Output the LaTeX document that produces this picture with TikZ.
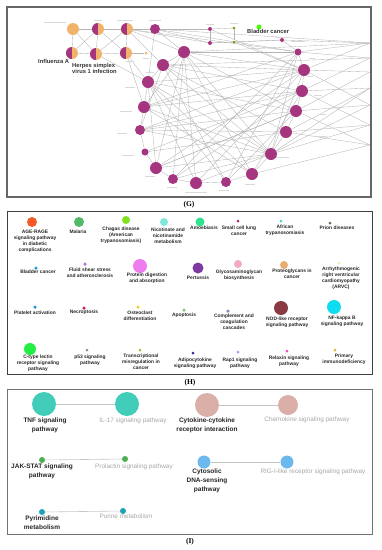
\documentclass[tikz,border=0pt]{standalone}
\usepackage{fontspec}
\setmainfont{Liberation Sans}
\newfontfamily\capfont{Liberation Serif}
\usetikzlibrary{backgrounds}
\definecolor{pur}{HTML}{A6357F}
\definecolor{org}{HTML}{F0B36C}
\definecolor{edg}{HTML}{B4B4B4}
\begin{document}
\begin{tikzpicture}[x=1pt,y=-1pt,
  dot/.style={circle,inner sep=0pt,draw=none},
  pn/.style={dot,fill=pur},
  halfnode/.style={dot,fill=org,path picture={\fill[pur] (path picture bounding box.north west) rectangle (path picture bounding box.south);}},
  edge/.style={draw=edg,line width=0.35pt},
  faint/.style={draw=gray!30,line width=0.7pt},
  hl/.style={font=\bfseries\fontsize{4.9}{6.0}\selectfont,align=center,anchor=north,inner sep=0pt,text=black!85},
  il/.style={font=\bfseries\fontsize{6.5}{9}\selectfont,align=center,anchor=north,inner sep=0pt,text=black!85},
  ig/.style={font=\fontsize{6.4}{9}\selectfont,align=center,anchor=north,inner sep=0pt,text=gray!70},
  ie/.style={draw=gray!45,line width=0.6pt},
  captxt/.style={font=\capfont\bfseries\fontsize{7.5}{8}\selectfont,inner sep=0pt},
  gl/.style={font=\bfseries\fontsize{5.8}{6.5}\selectfont,inner sep=0pt,text=black!80}
]
\useasboundingbox (0,0) rectangle (381,550);

% ================= Panel G =================
\draw[line width=1.5pt,draw=black!60] (7,7) rectangle (371,197);
% top cluster
\node[dot,fill=org,minimum size=12] (t1) at (73,29) {};
\node[halfnode,minimum size=12] (t2) at (98,29) {};
\node[halfnode,minimum size=12] (t3) at (127,29) {};
\node[pn,minimum size=10] (t4) at (155,29) {};
\node[halfnode,minimum size=12] (b1) at (72,53) {};
\node[halfnode,minimum size=12] (b2) at (96,54) {};
\node[halfnode,minimum size=12] (b3) at (126,53) {};
\node[dot,fill=org,minimum size=3] (b4) at (146,53) {};
\node[pn,minimum size=4] (s1) at (210,29) {};
\node[pn,minimum size=4] (s2) at (210,43) {};
\node[dot,fill=olive!80!green,minimum size=3] (g1) at (234,28) {};
\node[dot,fill=olive!80!green,minimum size=3] (g2) at (234,42) {};
\node[dot,fill=green!70!yellow,minimum size=5] (g3) at (259,27) {};
\node[pn,minimum size=4] (s3) at (282,40) {};
% ring
\node[pn,minimum size=12] (c1) at (184,52) {};
\node[pn,minimum size=12] (c2) at (163,65) {};
\node[pn,minimum size=12] (c3) at (148,82) {};
\node[pn,minimum size=12] (c4) at (144,107) {};
\node[pn,minimum size=10] (c5) at (140,130) {};
\node[pn,minimum size=7] (c6) at (145,152) {};
\node[pn,minimum size=12] (c7) at (156,168) {};
\node[pn,minimum size=10] (c8) at (173,179) {};
\node[pn,minimum size=12] (c9) at (196,183) {};
\node[pn,minimum size=10] (c10) at (226,182) {};
\node[pn,minimum size=12] (c11) at (252,174) {};
\node[pn,minimum size=12] (c12) at (271,154) {};
\node[pn,minimum size=12] (c13) at (286,132) {};
\node[pn,minimum size=12] (c14) at (296,111) {};
\node[pn,minimum size=12] (c15) at (302,91) {};
\node[pn,minimum size=12] (c16) at (304,70) {};
\node[pn,minimum size=7] (c17) at (298,52) {};
% right-edge endpoints
\coordinate (r1) at (370,43);
\coordinate (r2) at (370,58);
\coordinate (r3) at (370,72);
\coordinate (r4) at (370,88);
\coordinate (r5) at (370,105);
\coordinate (r6) at (370,125);
\coordinate (r7) at (370,145);
\begin{scope}[on background layer]
\foreach \a/\b in {t1/t2,t2/t3,t3/t4,b1/b2,b2/b3,b3/b4,t1/b1,t2/b2,t3/b3,t1/b2,t2/b1,t2/b3,t3/b2,
  b2/c3,b3/c3,t3/c2,t4/c1,t4/c3,t3/c1,t4/s1,t4/s2,t4/c17,t4/r1,t3/s2,t3/c17,b3/c4,
  s1/s2,g1/g2,s1/g1,s2/g2,g2/s3,s2/s3,s3/c17,s1/c16,g2/c16,
  c1/c2,c2/c3,c3/c4,c4/c5,c5/c6,c6/c7,c7/c8,c8/c9,c9/c10,c10/c11,c11/c12,c12/c13,c13/c14,c14/c15,c15/c16,c16/c17,c17/c1,
  c1/c12,c1/c14,c1/c16,c1/c11,c2/c12,c2/c15,c2/c16,c2/c13,c3/c12,c3/c14,c3/c16,c3/c10,c4/c12,c4/c15,c4/c17,c4/c11,
  c5/c12,c5/c14,c5/c16,c6/c15,c6/c13,c7/c12,c7/c16,c7/c14,c8/c15,c8/c1,c9/c3,c9/c16,c9/c1,c10/c2,c10/c17,c11/c3,
  c11/c15,c12/c17,c13/c5,c14/c7,c15/c5,c16/c4,c17/c8,c1/c4,c1/c7,c2/c5,c3/c7,c8/c12,c9/c12,c10/c14,c12/c16,
  c17/r1,c17/r2,c16/r1,c16/r3,c15/r2,c15/r4,c14/r3,c14/r5,c13/r4,c13/r6,c12/r5,c12/r6,c11/r7,c1/r1,c2/r2,s3/r1,
  c16/r5,c15/r6,c14/r7,c13/r7,c12/r4}
  \draw[edge] (\a) -- (\b);
% faint illegible node captions
\foreach \x/\y/\w in {55/22/22,98/20/8,125/20/16,155/20/12,130/61/8,146/58/6,210/24/8,234/23/8,282/37/14,298/41/14,
  312/58/6,310/76/6,318/95/8,322/114/8,320/136/14,282/157/14,250/184/10,224/190/10,196/192/22,172/187/10,
  150/176/10,128/155/12,122/133/10,126/111/12,130/87/10,150/72/8}
  \draw[faint] (\x-\w/2,\y) -- (\x+\w/2,\y);
\end{scope}
\node[gl,anchor=west] (lfa) at (38,61) {Influenza A};
\node[gl,anchor=north west,align=left] (lhs) at (72,63) {Herpes simplex\\virus 1 infection};
\node[gl,anchor=west] (lbc) at (247,31) {Bladder cancer};
\node[captxt] (capg) at (189,205) {(G)};

% ================= Panel H =================
\draw[line width=0.8pt,draw=black!75] (7,211) rectangle (372,374);
\foreach \n/\x/\y/\d/\c in {
  h1/32/222/10/F4592A, h2/79/222/10/52B96B, h3/126/220/8/7FE21F, h4/164/222/8/7FE7D9,
  h5/200/222/9/2FE38E, h6/238/221/3/B0257E, h7/281/221/3/3DD6C4, h8/330/223/3/6B6B4B,
  h9/36/268/3.5/2A9BD8, h10/85/264/3.5/B66BE0, h11/140/266/14/EE7BF0, h12/198/268/11/7E3AA0,
  h13/238/264/8/F5A7C8, h14/284/265/8/E8AD72, h15/339/263/3.5/F0F0B0,
  h16/35/307/3.5/2394D6, h17/84/308/3.5/C8245A, h18/138/307/3.5/F0D530, h19/184/310/3.5/8BBE7A,
  h20/228/311/3.5/7B8ACB, h21/281/308/14/8B3A44, h22/334/307/14/10DCEF,
  h23/30/349/12/22EE44, h24/87/350/3/9A8A9A, h25/140/350/3/9CC040, h26/193/353/3/2A2A9A,
  h27/238/352/3/A89AF0, h28/287/351/3/EE4AC8, h29/335/350/3/E0B040}
  {\definecolor{tmp}{HTML}{\c}\node[dot,fill=tmp,minimum size=\d] (\n) at (\x,\y) {};}
\node[hl] (lh1) at (35,230) {AGE-RAGE\\signaling pathway\\in diabetic\\complications};
\node[hl] (lh2) at (78,230) {Malaria};
\node[hl] (lh3) at (121,227) {Chagas disease\\(American\\trypanosomiasis)};
\node[hl] (lh4) at (168,228) {Nicotinate and\\nicotinamide\\metabolism};
\node[hl] (lh5) at (204,226) {Amoebiasis};
\node[hl] (lh6) at (239,226) {Small cell lung\\cancer};
\node[hl] (lh7) at (285,225) {African\\trypanosomiasis};
\node[hl] (lh8) at (337,226) {Prion diseases};
\node[hl] (lh9) at (38,270) {Bladder cancer};
\node[hl] (lh10) at (90,268) {Fluid shear stress\\and atherosclerosis};
\node[hl] (lh11) at (147,273) {Protein digestion\\and absorption};
\node[hl] (lh12) at (198,276) {Pertussis};
\node[hl] (lh13) at (239,270) {Glycosaminoglycan\\biosynthesis};
\node[hl] (lh14) at (292,269) {Proteoglycans in\\cancer};
\node[hl] (lh15) at (341,267) {Arrhythmogenic\\right ventricular\\cardiomyopathy\\(ARVC)};
\node[hl] (lh16) at (35,311) {Platelet activation};
\node[hl] (lh17) at (84,310) {Necroptosis};
\node[hl] (lh18) at (140,311) {Osteoclast\\differentiation};
\node[hl] (lh19) at (184,313) {Apoptosis};
\node[hl] (lh20) at (234,314) {Complement and\\coagulation\\cascades};
\node[hl] (lh21) at (287,317) {NOD-like receptor\\signaling pathway};
\node[hl] (lh22) at (342,316) {NF-kappa B\\signaling pathway};
\node[hl] (lh23) at (38,355) {C-type lectin\\receptor signaling\\pathway};
\node[hl] (lh24) at (90,355) {p53 signaling\\pathway};
\node[hl] (lh25) at (141,354) {Transcriptional\\misregulation in\\cancer};
\node[hl] (lh26) at (195,358) {Adipocytokine\\signaling pathway};
\node[hl] (lh27) at (240,358) {Rap1 signaling\\pathway};
\node[hl] (lh28) at (289,356) {Relaxin signaling\\pathway};
\node[hl] (lh29) at (344,354) {Primary\\immunodeficiency};
\node[captxt] (caph) at (190,383) {(H)};

% ================= Panel I =================
\draw[line width=0.7pt,draw=black!55] (7,389) rectangle (372,534);
\definecolor{tnfc}{HTML}{41CDB9}
\definecolor{cytc}{HTML}{D9AFA8}
\definecolor{jakc}{HTML}{4CAF50}
\definecolor{cdsc}{HTML}{6CB9F0}
\definecolor{pyrc}{HTML}{1BA3B4}
\node[dot,fill=tnfc,minimum size=24] (tnf) at (44,404) {};
\node[dot,fill=tnfc,minimum size=24] (il17) at (127,404) {};
\node[dot,fill=cytc,minimum size=24] (cyt) at (207,405) {};
\node[dot,fill=cytc,minimum size=20] (chem) at (288,405) {};
\node[dot,fill=jakc,minimum size=6] (jak) at (42,460) {};
\node[dot,fill=jakc,minimum size=6] (prl) at (125,459) {};
\node[dot,fill=cdsc,minimum size=13] (cds) at (204,462) {};
\node[dot,fill=cdsc,minimum size=13] (rig) at (287,462) {};
\node[dot,fill=pyrc,minimum size=6] (pyr) at (42,512) {};
\node[dot,fill=pyrc,minimum size=6] (pur) at (123,511) {};
\draw[ie] (tnf) -- (il17);
\draw[ie] (cyt) -- (chem);
\draw[ie] (jak) -- (prl);
\draw[ie] (cds) -- (rig);
\draw[ie] (pyr) -- (pur);
\node[il] (ltnf) at (45,418) {TNF signaling\\pathway};
\node[ig] (lil) at (133,418) {IL-17 signaling pathway};
\node[il] (lcyt) at (207,418) {Cytokine-cytokine\\receptor interaction};
\node[ig] (lchem) at (307,417) {Chemokine signaling pathway};
\node[il] (ljak) at (42,464) {JAK-STAT signaling\\pathway};
\node[ig] (lprl) at (134,464) {Prolactin signaling pathway};
\node[il] (lcds) at (207,469) {Cytosolic\\DNA-sensing\\pathway};
\node[ig] (lrig) at (313,469) {RIG-I-like receptor signaling pathway};
\node[il] (lpyr) at (42,516) {Pyrimidine\\metabolism};
\node[ig] (lpur) at (126,514) {Purine metabolism};
\node[captxt] (capi) at (190,542) {(I)};
\end{tikzpicture}
\end{document}
